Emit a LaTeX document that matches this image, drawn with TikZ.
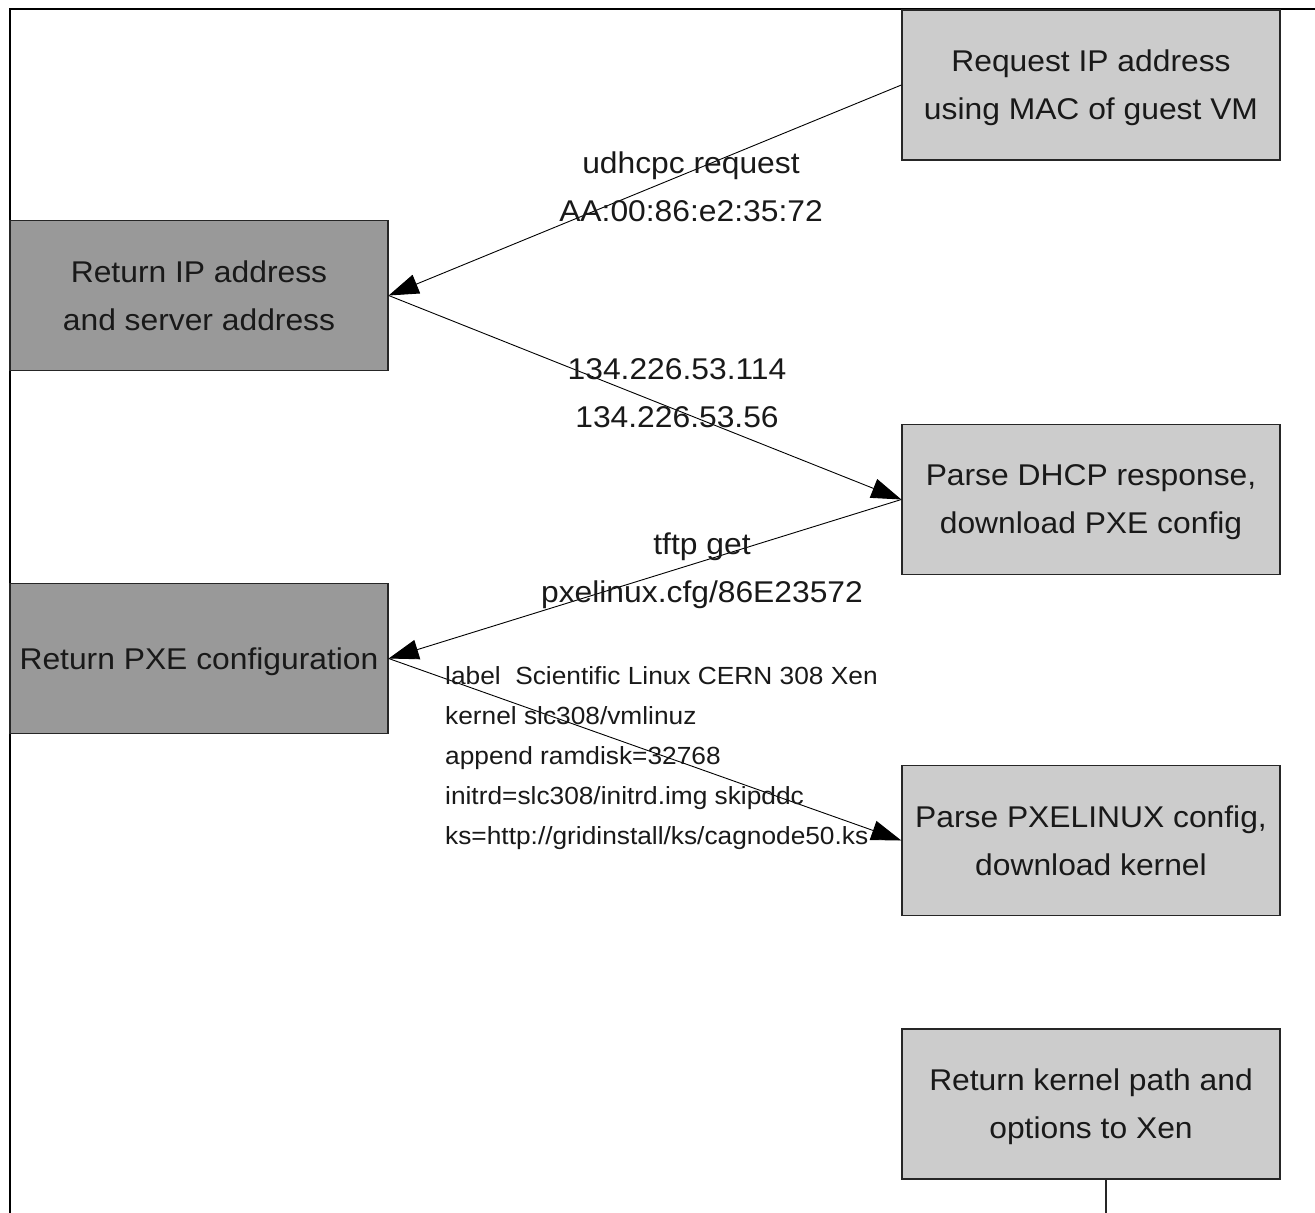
\documentclass[tikz,border=0pt]{standalone}
\usepackage{fontspec}
\setmainfont[FakeStretch=1.06]{Liberation Sans}
\usetikzlibrary{arrows.meta}
\begin{document}
\begin{tikzpicture}[x=1pt,y=-1pt,
  box/.style={draw=black!85, line width=1.3pt, minimum width=378pt, minimum height=150pt,
    align=center, inner sep=0pt, text depth=-10pt, text=black!90, font=\fontsize{30}{48}\selectfont},
  light/.style={box, fill=black!20},
  dark/.style={box, fill=black!40},
  conn/.style={draw=black, line width=0.9pt, -{Triangle[length=30pt,width=20pt]}},
  lbl/.style={align=center, inner sep=0pt, text=black!90, font=\fontsize{30}{48}\selectfont},
  small/.style={align=left, inner sep=0pt, text=black!90, font=\fontsize{24.8}{40}\selectfont},
]
\useasboundingbox (0,0) rectangle (1315,1213);
\fill[white] (0,0) rectangle (1315,1213);
\coordinate (frameBL) at (10,1213);
\coordinate (frameTL) at (10,9);
\coordinate (frameTR) at (1315,9);
\draw[line width=2pt] (frameBL) -- (frameTL) -- (frameTR);

\node[light] (A) at (1091,85) {Request IP address\\using MAC of guest VM};
\node[dark]  (B) at (199,295.5) {Return IP address\\and server address};
\node[light] (C) at (1091,499.5) {Parse DHCP response,\\download PXE config};
\node[dark]  (D) at (199,658.5) {Return PXE configuration};
\node[light] (E) at (1091,840.5) {Parse PXELINUX config,\\download kernel};
\node[light] (F) at (1091,1104) {Return kernel path and\\options to Xen};

\draw[conn] (A.west) -- (B.east);
\draw[conn] (B.east) -- (C.west);
\draw[conn] (C.west) -- (D.east);
\draw[conn] (D.east) -- (E.west);

\node[lbl] (l1) at (691,187) {udhcpc request\\AA:00:86:e2:35:72};
\node[lbl] (l2) at (677,393) {134.226.53.114\\134.226.53.56};
\node[lbl] (l3) at (702,570.5) {tftp get\\pxelinux.cfg/86E23572};
\node[small, anchor=west] (l4) at (445,758) {label\ \ Scientific Linux CERN 308 Xen\\kernel slc308/vmlinuz\\append ramdisk=32768\\initrd=slc308/initrd.img skipddc\\ks=http://gridinstall/ks/cagnode50.ks};

\coordinate (Fout) at (1106,1213);
\draw[line width=1.3pt, draw=black!85] (Fout |- F.south) -- (Fout);
\end{tikzpicture}
\end{document}
